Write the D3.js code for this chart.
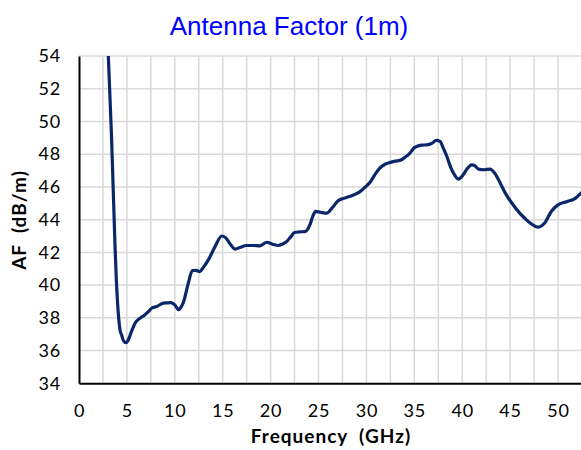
<head>
  <title>Antenna Factor (1m)</title>
  <script src="https://d3js.org/d3.v7.min.js"></script>
  <style>
    body { margin: 0; background: white; }
    svg { display: block; }
  </style>
</head>

<body>
  <svg id='canvas' width='581' height='450'></svg>
</body>

<script>
  // values
  const freqGHz = [3.0, 3.4, 3.76, 3.9, 4.1, 4.28, 4.45, 4.6, 4.87, 5.1, 5.5, 5.85, 6.37, 6.8, 7.24, 7.6,
    8.1, 8.8, 9.6, 10.0, 10.4, 10.7, 10.9, 11.4, 11.83, 12.2, 12.6, 13.0, 13.5, 14.2, 14.9, 15.3,
    15.8, 16.3, 16.8, 17.5, 18.2, 18.9, 19.6, 20.2, 20.8, 21.2, 21.7, 22.1, 22.5, 23.0, 23.6, 24.1,
    24.4, 24.7, 25.2, 25.85, 26.4, 27.07, 27.6, 28.4, 29.3, 29.9, 30.4, 31.0, 31.4, 32.0, 32.5, 33.0,
    33.5, 34.0, 34.55, 35.0, 35.25, 35.8, 36.3, 36.8, 37.3, 37.7, 38.0, 38.4, 38.8, 39.1, 39.6, 40.1,
    40.5, 41.0, 41.3, 41.7, 42.3, 42.9, 43.4, 44.0, 44.5, 45.2, 46.0, 46.6, 47.1, 47.95, 48.6, 49.3,
    50.0, 50.9, 51.8, 52.4, 52.8];
  const afDbM = [54.9, 49.0, 42.4, 40.3, 38.3, 37.26, 36.95, 36.65, 36.48, 36.6, 37.2, 37.67, 37.98, 38.15, 38.38, 38.6,
    38.69, 38.9, 38.93, 38.79, 38.5, 38.7, 38.95, 40.1, 40.89, 40.9, 40.83, 41.1, 41.54, 42.35, 43.0, 42.9,
    42.5, 42.2, 42.3, 42.42, 42.42, 42.4, 42.62, 42.5, 42.42, 42.5, 42.67, 42.95, 43.21, 43.25, 43.27, 43.68,
    44.2, 44.5, 44.45, 44.4, 44.7, 45.17, 45.3, 45.45, 45.7, 46.0, 46.3, 46.85, 47.15, 47.4, 47.5, 47.58,
    47.62, 47.8, 48.07, 48.4, 48.47, 48.55, 48.57, 48.65, 48.84, 48.78, 48.4, 47.86, 47.2, 46.84, 46.48, 46.74,
    47.1, 47.35, 47.3, 47.09, 47.05, 47.09, 46.84, 46.2, 45.62, 45.0, 44.4, 44.05, 43.79, 43.54, 43.79, 44.5,
    44.9, 45.1, 45.3, 45.62, 45.8];
  const xTicks = [0, 5, 10, 15, 20, 25, 30, 35, 40, 45, 50];
  const yTicks = [34, 36, 38, 40, 42, 44, 46, 48, 50, 52, 54];
  const xGrid = d3.range(0, 52.5, 2.5);

  const plotL = 79, plotR = 581, plotT = 56, plotB = 383.3;
  const svg = d3.select('#canvas');

  const x = d3.scaleLinear().domain([0, 52.4]).range([plotL, plotR]);
  const y = d3.scaleLinear().domain([34, 54]).range([plotB, plotT]);

  svg.append('text')
    .attr('x', 289).attr('y', 35)
    .attr('text-anchor', 'middle')
    .style('font-family', 'Liberation Sans, Arial, sans-serif')
    .style('font-size', '26px')
    .attr('fill', '#0000ff')
    .text('Antenna Factor (1m)');

  // grid
  svg.append('g').selectAll('line')
    .data(xGrid.filter(d => d > 0))
    .enter().append('line')
    .attr('x1', d => x(d)).attr('x2', d => x(d))
    .attr('y1', plotT).attr('y2', plotB)
    .attr('stroke', '#d9d9d9').attr('stroke-width', 1.5);
  svg.append('g').selectAll('line')
    .data(yTicks.filter(d => d > 34))
    .enter().append('line')
    .attr('x1', plotL).attr('x2', plotR)
    .attr('y1', d => y(d)).attr('y2', d => y(d))
    .attr('stroke', '#d9d9d9').attr('stroke-width', 1.5);

  // axes, labels only
  const xAxis = svg.append('g')
    .attr('transform', 'translate(0,' + plotB + ')')
    .call(d3.axisBottom(x).tickValues(xTicks).tickSize(0).tickPadding(21));
  const yAxis = svg.append('g')
    .attr('transform', 'translate(' + plotL + ',0)')
    .call(d3.axisLeft(y).tickValues(yTicks).tickSize(0).tickPadding(18));
  [xAxis, yAxis].forEach(a => {
    a.select('.domain').attr('stroke', '#000').attr('stroke-width', 2);
    a.selectAll('text')
      .style('font-family', 'Lato, Open Sans, sans-serif')
      .style('font-size', '18px')
      .style('letter-spacing', '0.8px')
      .attr('fill', '#000');
  });

  svg.append('clipPath').attr('id', 'plot')
    .append('rect')
    .attr('x', plotL).attr('y', plotT)
    .attr('width', plotR - plotL).attr('height', plotB - plotT);

  const line = d3.line()
    .x(d => x(d[0]))
    .y(d => y(d[1]))
    .curve(d3.curveMonotoneX);

  svg.append('path')
    .datum(d3.zip(freqGHz, afDbM))
    .attr('clip-path', 'url(#plot)')
    .attr('d', line)
    .attr('fill', 'none')
    .attr('stroke', '#0a2769')
    .attr('stroke-width', 3.2)
    .attr('stroke-linejoin', 'round');

  svg.append('text')
    .attr('x', 331).attr('y', 443)
    .attr('text-anchor', 'middle')
    .style('font-family', 'Lato, Open Sans, sans-serif')
    .style('font-weight', 'bold')
    .style('font-size', '19px')
    .style('letter-spacing', '1px')
    .style('white-space', 'pre')
    .text('Frequency  (GHz)');

  svg.append('text')
    .attr('transform', 'translate(26,220) rotate(-90)')
    .attr('text-anchor', 'middle')
    .style('font-family', 'Lato, Open Sans, sans-serif')
    .style('font-weight', 'bold')
    .style('font-size', '19px')
    .style('letter-spacing', '1px')
    .style('white-space', 'pre')
    .text('AF  (dB/m)');
</script>
